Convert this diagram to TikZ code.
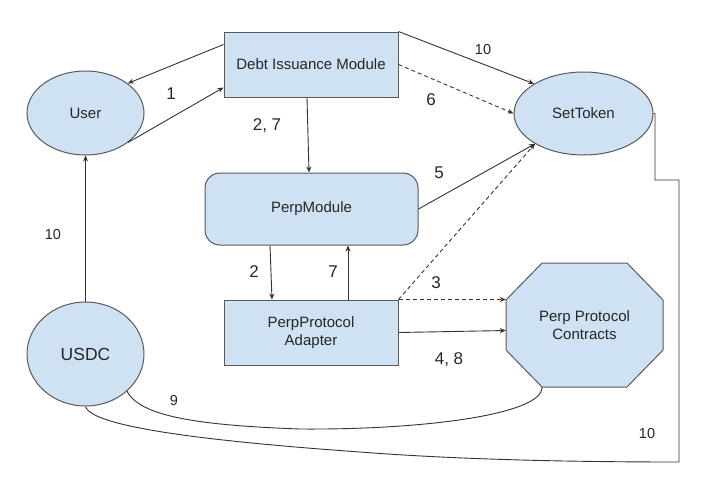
\documentclass[tikz,border=0pt]{standalone}
\usepackage{fontspec}
\setmainfont{Liberation Sans}
\usetikzlibrary{arrows.meta,calc,shapes.geometric}
\definecolor{boxfill}{HTML}{CFE2F3}
\definecolor{boxline}{HTML}{595959}
\definecolor{wire}{HTML}{333333}
\definecolor{txt}{HTML}{262626}
\begin{document}
\begin{tikzpicture}[x=1pt,y=-1pt,
  box/.style={draw=boxline,fill=boxfill,line width=1pt,inner sep=0pt,text=txt,
    font=\fontsize{15}{18}\selectfont,align=center},
  rectbox/.style={box,rectangle},
  ellbox/.style={box,ellipse},
  conn/.style={draw=wire,line width=0.9pt,-{Stealth[length=6pt,width=5pt]}},
  dconn/.style={conn,dash pattern=on 4pt off 3pt},
  wireline/.style={draw=wire,line width=0.9pt},
  lbl/.style={text=txt,inner sep=0pt,font=\fontsize{17}{20}\selectfont},
  slbl/.style={text=txt,inner sep=0pt,font=\fontsize{14.5}{17}\selectfont}]
\useasboundingbox (0,0) rectangle (708,482);

% nodes
\node[rectbox,minimum width=174pt,minimum height=65pt] (dim) at (311,64.5) {Debt Issuance Module};
\node[ellbox,minimum width=117pt,minimum height=84pt] (user) at (85.5,113) {User};
\node[ellbox,minimum width=139pt,minimum height=83pt] (settoken) at (583.5,113.5) {SetToken};
\node[rectbox,rounded corners=15pt,minimum width=213pt,minimum height=72pt] (pm) at (311.5,209) {PerpModule};
\node[rectbox,minimum width=174pt,minimum height=65pt] (ppa) at (311,332.5) {PerpProtocol\\Adapter};
\node[ellbox,minimum width=117pt,minimum height=104pt,font=\fontsize{17.5}{20}\selectfont] (usdc) at (85.5,354) {USDC};

% octagon
\filldraw[draw=boxline,fill=boxfill,line width=1pt]
  (506,300) -- (542,263) -- (627,263) -- (663,300) -- (663,350) -- (627,387) -- (542,387) -- (506,350) -- cycle;
\node[rectangle,inner sep=0pt,minimum width=157pt,minimum height=124pt,text=txt,
  font=\fontsize{15}{18}\selectfont,align=center] (ppc) at (584.5,325) {Perp Protocol\\Contracts};
\coordinate (ppcbl) at (542,387);

% connectors
\draw[conn] ($(dim.north west)+(0,13)$) -- (user.35);
\draw[conn] (user.-35) -- ($(dim.south west)+(0,-10)$);
\draw[conn] ($(dim.south)+(-4,0)$) -- ($(pm.north)+(-2.5,0)$);
\draw[conn] (dim.north east) -- (settoken.149);
\draw[dconn] (dim.east) -- (settoken.west);
\draw[conn] (pm.east) -- (settoken.212);
\draw[dconn] (ppa.north east) -- (settoken.212);
\draw[dconn] (ppa.north east) -- (ppc.west |- ppa.north east);
\draw[conn] (ppa.east) -- ($(ppc.west |- ppa.east)+(0,-2)$);
\draw[conn] ($(pm.south)+(-41.5,0)$) -- ($(ppa.north)+(-39,0)$);
\draw[conn] ($(ppa.north)+(37,0)$) -- ($(pm.south)+(36.5,0)$);
\draw[conn] (usdc.north) -- (user.south);

% curves
\draw[wireline] (usdc.-42) .. controls (140,415) and (190,425) .. (300,429)
  .. controls (420,430) and (543,415) .. (ppcbl);
\coordinate (b1) at (679,462);
\coordinate (b2) at (679,180);
\coordinate (b3) at (655,180);
\draw[wireline] (usdc.south) .. controls (92,428) and (220,442) .. (360,452)
  .. controls (450,459) and (560,462) .. (b1) -- (b2) -- (b3) -- (b3 |- settoken.east) -- (settoken.east);

% labels
\node[lbl] (l1) at (171,94) {1};
\node[lbl] (l27) at (267,126) {2, 7};
\node[slbl] (l10a) at (483,50) {10};
\node[lbl] (l6) at (431,100) {6};
\node[lbl] (l5) at (439,173) {5};
\node[lbl] (l2) at (254,272) {2};
\node[lbl] (l7) at (333,272) {7};
\node[lbl] (l3) at (436,283) {3};
\node[lbl] (l48) at (449,360) {4, 8};
\node[slbl] (l10b) at (53,235) {10};
\node[slbl] (l9) at (174,400) {9};
\node[slbl] (l10c) at (647,433) {10};
\end{tikzpicture}
\end{document}
